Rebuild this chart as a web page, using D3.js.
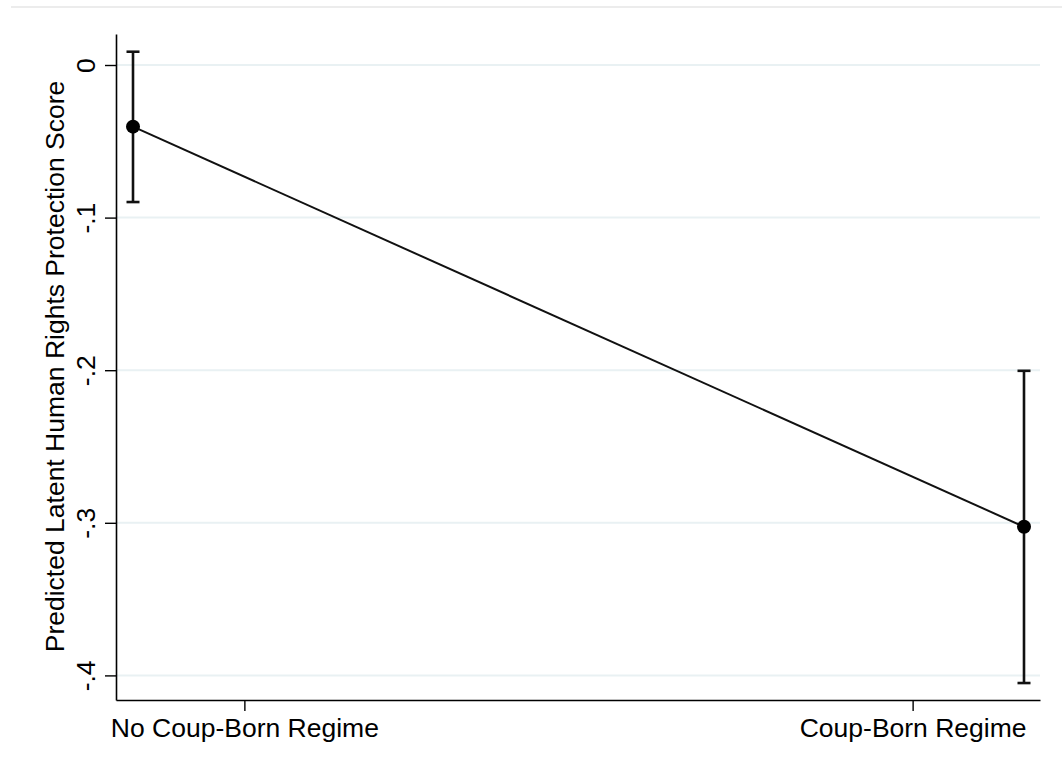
<!DOCTYPE html>
<html>
<head>
<meta charset="utf-8">
<script src="https://cdn.jsdelivr.net/npm/d3@7"></script>
<style>
  html, body { margin: 0; padding: 0; background: #ffffff; }
  svg { display: block; font-family: "Liberation Sans", Arial, Helvetica, sans-serif; }
</style>
</head>
<body>
<svg id="chart" width="1062" height="771"></svg>
<script>
// ---- data ----
const categories = ["No Coup-Born Regime", "Coup-Born Regime"];
const xValues = [0, 1];
const estimates = [-0.0404, -0.3026];
const ciLow = [-0.0898, -0.4050];
const ciHigh = [0.0087, -0.2004];
const yTicks = [0, -0.1, -0.2, -0.3, -0.4];
const yTickLabels = ["0", "-.1", "-.2", "-.3", "-.4"];
const xTickValues = [0.125, 0.875];
const yTitle = "Predicted Latent Human Rights Protection Score";

// ---- layout ----
const svg = d3.select("#chart");
const plotLeft = 116, plotRight = 1040, plotTop = 34, plotBottom = 700;

const x = d3.scaleLinear().domain([-0.01908, 1.01796]).range([plotLeft, plotRight]);
const y = d3.scaleLinear().domain([0.020315, -0.41612]).range([plotTop, plotBottom]);

// outer graph-region top border line
svg.append("line")
  .attr("x1", 11).attr("x2", 1062).attr("y1", 7).attr("y2", 7)
  .attr("stroke", "#ececec").attr("stroke-width", 2);

// gridlines
svg.append("g").selectAll("line").data(yTicks).join("line")
  .attr("x1", plotLeft).attr("x2", plotRight)
  .attr("y1", d => y(d)).attr("y2", d => y(d))
  .attr("stroke", "#e9f1f3").attr("stroke-width", 2);

// y axis
const yAxis = d3.axisLeft(y).tickValues(yTicks)
  .tickFormat((d, i) => yTickLabels[i]).tickSize(11).tickSizeOuter(0);
const gy = svg.append("g").attr("transform", `translate(${plotLeft},0)`).call(yAxis);
gy.select(".domain").attr("stroke", "#000").attr("stroke-width", 1.6);
gy.selectAll(".tick line").attr("stroke", "#000").attr("stroke-width", 1.4);
gy.selectAll(".tick text")
  .attr("font-size", 26.5).attr("fill", "#000")
  .attr("x", 0).attr("y", 0).attr("dy", 0)
  .attr("text-anchor", "middle")
  .attr("transform", "translate(-21,0) rotate(-90)");

// y title
svg.append("text")
  .attr("transform", `translate(63.5,${(81 + 652) / 2}) rotate(-90)`)
  .attr("text-anchor", "middle")
  .attr("font-size", 26.5).attr("fill", "#000")
  .text(yTitle);

// x axis
const xAxis = d3.axisBottom(x).tickValues(xTickValues)
  .tickFormat((d, i) => categories[i]).tickSize(11).tickSizeOuter(0);
const gx = svg.append("g").attr("transform", `translate(0,${plotBottom})`).call(xAxis);
gx.select(".domain").attr("stroke", "#000").attr("stroke-width", 1.6);
gx.selectAll(".tick line").attr("stroke", "#000").attr("stroke-width", 1.4);
gx.selectAll(".tick text")
  .attr("font-size", 26.5).attr("fill", "#000")
  .attr("dy", 0).attr("y", 37);

// connecting line
const line = d3.line().x((d, i) => x(xValues[i])).y(d => y(d));
svg.append("path").datum(estimates)
  .attr("d", line).attr("fill", "none")
  .attr("stroke", "#111").attr("stroke-width", 2);

// error bars
const eb = svg.append("g").attr("stroke", "#111").attr("stroke-width", 2.6);
eb.selectAll("line.v").data(xValues).join("line").attr("class", "v")
  .attr("x1", d => x(d)).attr("x2", d => x(d))
  .attr("y1", (d, i) => y(ciHigh[i])).attr("y2", (d, i) => y(ciLow[i]));
eb.selectAll("line.ct").data(xValues).join("line").attr("class", "ct")
  .attr("x1", d => x(d) - 6.5).attr("x2", d => x(d) + 6.5)
  .attr("y1", (d, i) => y(ciHigh[i])).attr("y2", (d, i) => y(ciHigh[i]));
eb.selectAll("line.cb").data(xValues).join("line").attr("class", "cb")
  .attr("x1", d => x(d) - 6.5).attr("x2", d => x(d) + 6.5)
  .attr("y1", (d, i) => y(ciLow[i])).attr("y2", (d, i) => y(ciLow[i]));

// points
svg.append("g").selectAll("circle").data(estimates).join("circle")
  .attr("cx", (d, i) => x(xValues[i])).attr("cy", d => y(d))
  .attr("r", 7).attr("fill", "#000");
</script>
</body>
</html>
